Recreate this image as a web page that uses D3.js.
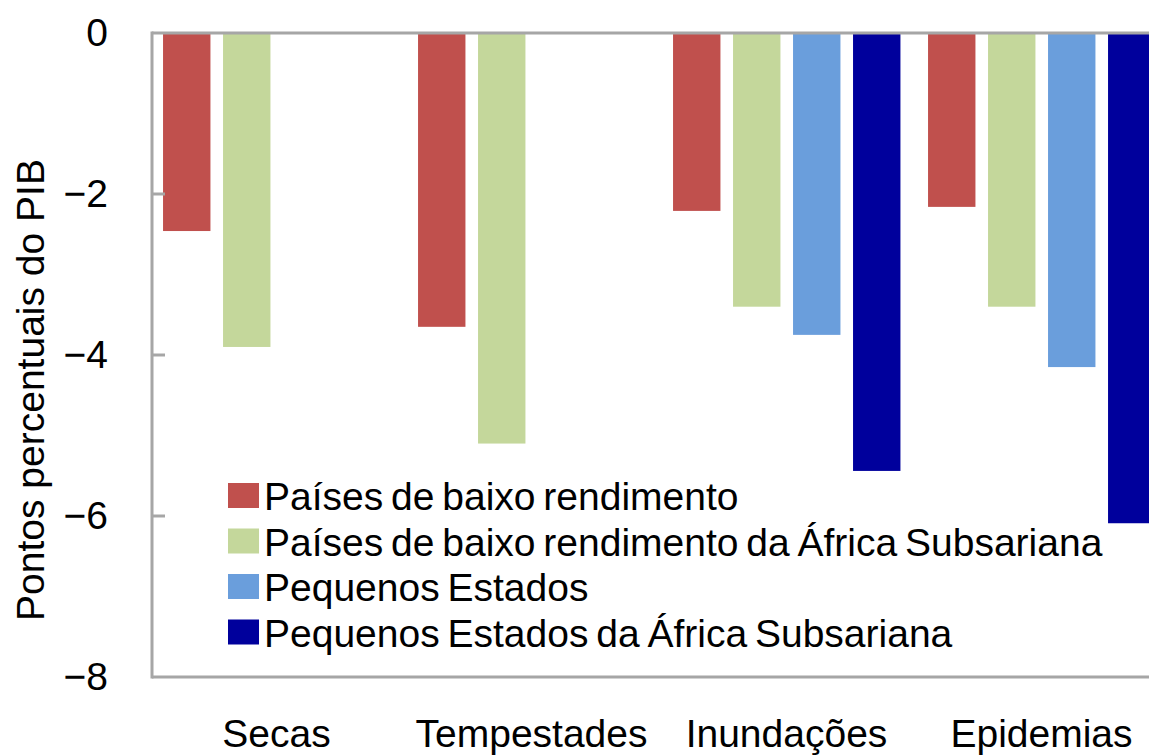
<!DOCTYPE html>
<html>
<head>
<meta charset="utf-8">
<script src="https://cdn.jsdelivr.net/npm/d3@7"></script>
<style>
  html, body { margin: 0; padding: 0; background: #fff; }
  svg { display: block; font-family: "Liberation Sans", Arial, sans-serif; }
</style>
</head>
<body>
<svg id="chart" width="1149" height="755"></svg>
<script>
// categorias e séries
const categories = ['Secas', 'Tempestades', 'Inundações', 'Epidemias'];
const seriesNames = [
  'Países de baixo rendimento',
  'Países de baixo rendimento da África Subsariana',
  'Pequenos Estados',
  'Pequenos Estados da África Subsariana'
];
const lowIncome       = [-2.46, -3.65, -2.21, -2.16];
const lowIncomeSSA    = [-3.90, -5.10, -3.40, -3.40];
const smallStates     = [null, null, -3.75, -4.15];
const smallStatesSSA  = [null, null, -5.44, -6.09];
const yTicks = [0, -2, -4, -6, -8];
const yTitle = 'Pontos percentuais do PIB';

const colors = ['#c0504d', '#c4d79b', '#6a9edc', '#00009c'];
const seriesValues = [lowIncome, lowIncomeSSA, smallStates, smallStatesSSA];

const svg = d3.select('#chart');
const axisColor = '#a6a6a6';
const fontSize = 39;

const left = 152;
const step = 255;

const x0 = d3.scaleBand()
  .domain(categories)
  .range([left, left + step * categories.length])
  .padding(0);

const x1 = d3.scaleBand()
  .domain(d3.range(seriesNames.length))
  .range([0, x0.bandwidth()])
  .paddingInner(0.21)
  .paddingOuter(0.23)
  .align(0.4);

const y = d3.scaleLinear()
  .domain([-8, 0])
  .range([677, 33]);

// bars
const rows = [];
categories.forEach((c, ci) => {
  seriesValues.forEach((vals, si) => {
    if (vals[ci] !== null) rows.push({cat: c, s: si, v: vals[ci]});
  });
});

svg.append('g')
  .selectAll('rect')
  .data(rows)
  .enter()
  .append('rect')
  .attr('x', d => x0(d.cat) + x1(d.s))
  .attr('y', y(0))
  .attr('width', x1.bandwidth())
  .attr('height', d => y(d.v) - y(0))
  .attr('fill', d => colors[d.s]);

// axis lines
const axis = svg.append('g').attr('stroke', axisColor).attr('stroke-width', 3);
axis.append('line')
  .attr('x1', left).attr('x2', 1149)
  .attr('y1', y(0)).attr('y2', y(0));
axis.append('line')
  .attr('x1', left).attr('x2', 1149)
  .attr('y1', y(-8)).attr('y2', y(-8));
axis.append('line')
  .attr('x1', left).attr('x2', left)
  .attr('y1', y(0) - 1.5).attr('y2', y(-8) + 1.5);
axis.selectAll('.tick')
  .data(yTicks.slice(1, -1))
  .enter()
  .append('line')
  .attr('x1', left).attr('x2', left + 13)
  .attr('y1', d => y(d)).attr('y2', d => y(d));

// tick labels
const fmt = d3.format('d');
svg.append('g')
  .selectAll('text')
  .data(yTicks)
  .enter()
  .append('text')
  .attr('x', 108)
  .attr('y', d => y(d))
  .attr('dy', '0.33em')
  .attr('text-anchor', 'end')
  .attr('font-size', fontSize)
  .attr('fill', '#000')
  .text(d => fmt(d));

// category labels
svg.append('g')
  .selectAll('text')
  .data(categories)
  .enter()
  .append('text')
  .attr('x', d => x0(d) + x0.bandwidth() / 2 - 3)
  .attr('y', 747)
  .attr('text-anchor', 'middle')
  .attr('font-size', fontSize)
  .attr('fill', '#000')
  .text(d => d);

// y title
svg.append('text')
  .attr('transform', 'translate(44, 390) rotate(-90)')
  .attr('text-anchor', 'middle')
  .attr('font-size', fontSize)
  .attr('fill', '#000')
  .text(yTitle);

// legend
const legend = svg.append('g').attr('transform', 'translate(228, 483)');
const entries = legend.selectAll('g')
  .data(seriesNames)
  .enter()
  .append('g')
  .attr('transform', (d, i) => `translate(0, ${i * 45.5})`);

entries.append('rect')
  .attr('width', 31)
  .attr('height', 25)
  .attr('fill', (d, i) => colors[i]);

entries.append('text')
  .attr('x', 36)
  .attr('y', 27)
  .attr('font-size', fontSize)
  .attr('word-spacing', -3)
  .attr('fill', '#000')
  .text(d => d);
</script>
</body>
</html>
